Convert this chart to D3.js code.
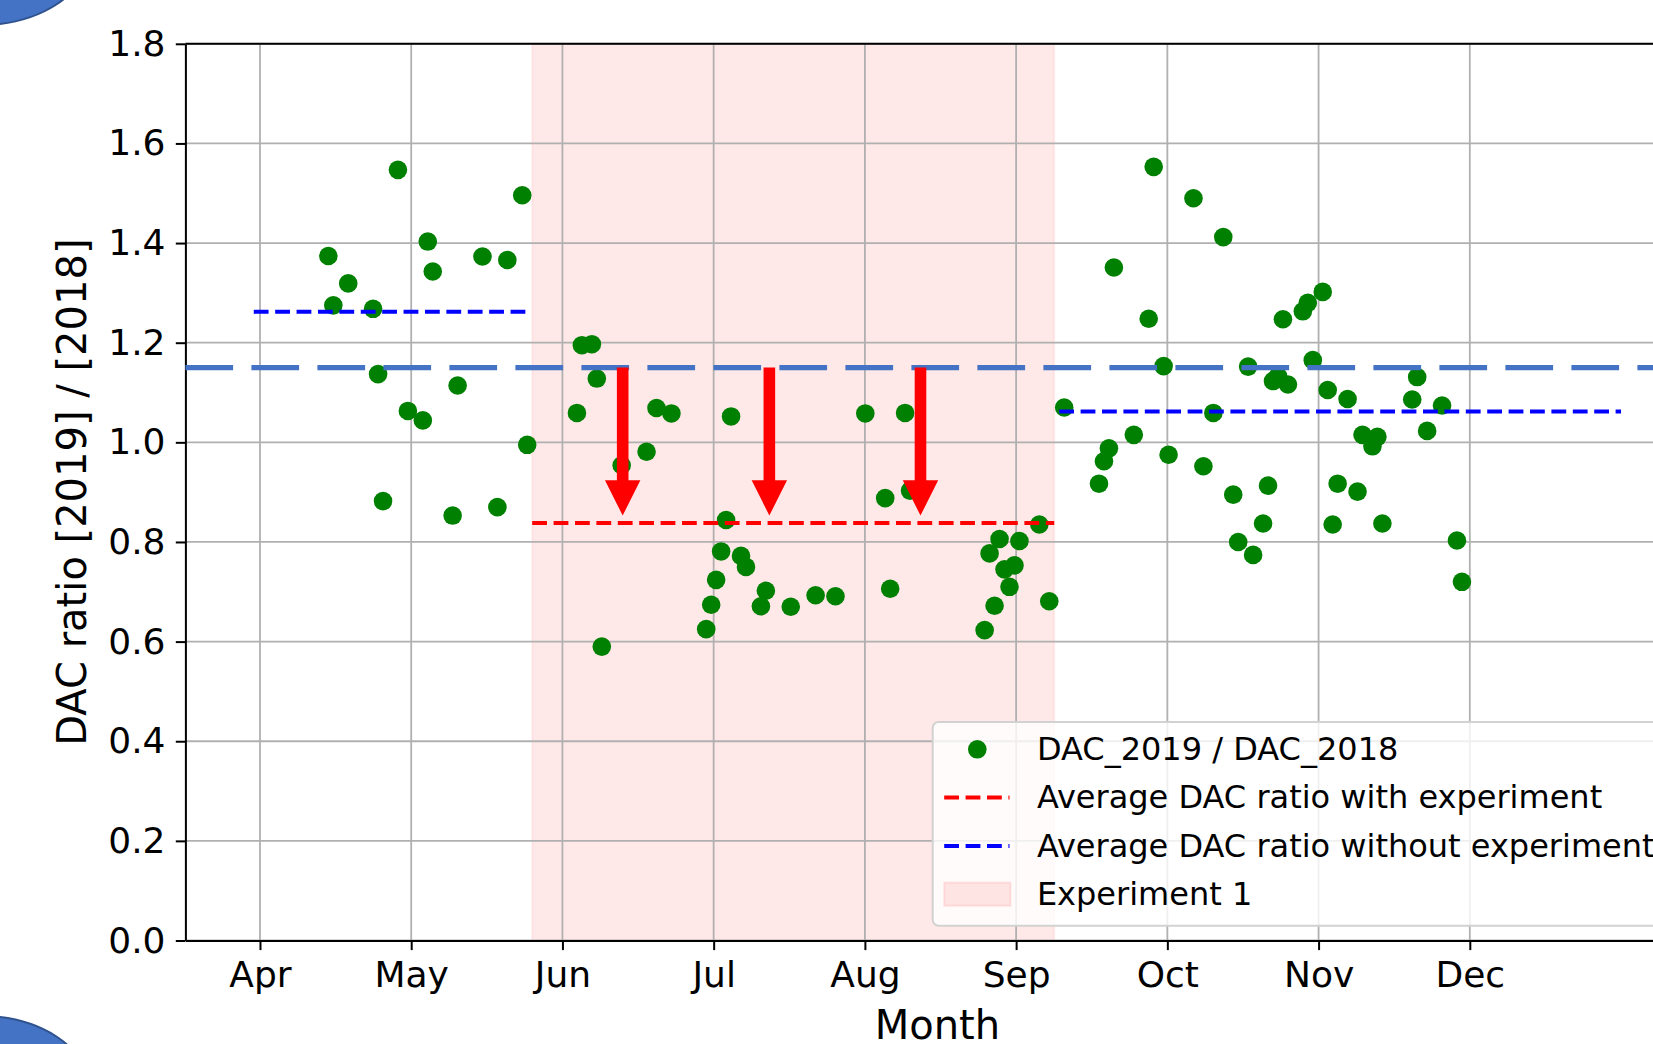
<!DOCTYPE html>
<meta charset="utf-8">

<head>
	<script src="https://cdn.jsdelivr.net/npm/d3@7"></script>
	<style>
		body {
			margin: 0;
			background: #fff;
		}

		svg {
			display: block;
			font-family: "DejaVu Sans", sans-serif;
		}

		.tick text {
			font-size: 36px;
			fill: #000;
		}

		.legend text {
			font-size: 32px;
			fill: #000;
		}
	</style>
</head>

<body>
	<svg id="svg"></svg>
</body>
<script>
	// day of the year (2019) of each measurement
	var dayOfYear = [
		105, 106, 109, 114, 115, 116, 119, 121, 124, 125, 126, 130, 131, 136, 139, 141, 144, 145,
		155, 156, 158, 159, 160, 164, 169, 171, 174,
		181, 182, 183, 184, 185, 186, 188, 189, 192, 193, 198, 203, 207,
		213, 217, 218, 221, 222,
		237, 238, 239, 240, 241, 242, 243, 244, 248, 250,
		253, 260, 261, 262, 263, 267, 270, 271, 273, 274, 279, 281, 283, 285, 287, 288, 290, 291,
		293, 294, 295, 296, 297, 298, 301, 302, 303, 305, 306, 307, 308, 310, 312, 313, 315, 316, 317,
		323, 324, 326, 329, 332, 333
	];

	// DAC_2019 / DAC_2018
	var dacRatio = [
		1.374, 1.275, 1.319, 1.268, 1.137, 0.882, 1.547, 1.063, 1.044, 1.403, 1.343, 0.853, 1.114, 1.373, 0.870, 1.366, 1.496, 0.995,
		1.059, 1.195, 1.197, 1.128, 0.590, 0.954, 0.981, 1.069, 1.058,
		0.625, 0.674, 0.724, 0.781, 0.844, 1.052, 0.772, 0.750, 0.671, 0.702, 0.670, 0.693, 0.691,
		1.058, 0.888, 0.706, 1.059, 0.903,
		0.623, 0.777, 0.672, 0.806, 0.745, 0.710, 0.753, 0.802, 0.835, 0.681,
		1.070, 0.917, 0.962, 0.988, 1.351, 1.015, 1.248, 1.553, 1.153, 0.975, 1.490, 0.952, 1.059, 1.412, 0.895, 0.800, 1.152, 0.774,
		0.837, 0.913, 1.123, 1.133, 1.247, 1.116, 1.263, 1.280, 1.165, 1.302, 1.105, 0.835, 0.917, 1.087, 0.901, 1.015, 0.992, 1.011, 0.837,
		1.086, 1.131, 1.023, 1.074, 0.803, 0.720
	];

	var monthLabels = ['Apr', 'May', 'Jun', 'Jul', 'Aug', 'Sep', 'Oct', 'Nov', 'Dec'];
	var yTicks = [0, 0.2, 0.4, 0.6, 0.8, 1.0, 1.2, 1.4, 1.6, 1.8];

	// averages without experiment: [start day, end day, value]
	var withoutStart = [90, 252];
	var withoutEnd = [145, 365];
	var withoutValue = [1.262, 1.062];

	// experiment period and its average
	var experimentSpan = [146, 251];
	var withValue = 0.838;

	// overall reference level and the arrows drawn from it
	var referenceLevel = 1.15;
	var arrowDays = [164.2, 193.7, 224.1];
	var arrowHead = [0.924, 0.853];

	var legendLabels = [
		'DAC_2019 / DAC_2018',
		'Average DAC ratio with experiment',
		'Average DAC ratio without experiment',
		'Experiment 1'
	];

	var width = 1653, height = 1044;
	var margin = { left: 185.4, top: 43.8 };
	var plotW = 1504, plotH = 896.7;

	var svg = d3.select('#svg')
		.attr('width', width)
		.attr('height', height);

	// slide decoration behind the chart
	[[-20, -45], [-20, 1086]].forEach(c => {
		svg.append('ellipse')
			.attr('cx', c[0]).attr('cy', c[1])
			.attr('rx', 108).attr('ry', 70)
			.attr('fill', '#4472C4')
			.attr('stroke', '#2F528F')
			.attr('stroke-width', 2);
	});

	var x = d3.scaleLinear().domain([76.25, 378.75]).range([margin.left, margin.left + plotW]);
	var y = d3.scaleLinear().domain([0, 1.8]).range([margin.top + plotH, margin.top]);

	var monthTicks = monthLabels.map((m, i) => (i + 3) * 365 / 12);

	// shaded experiment span
	svg.append('rect')
		.attr('x', x(experimentSpan[0]))
		.attr('y', y(1.8))
		.attr('width', x(experimentSpan[1]) - x(experimentSpan[0]))
		.attr('height', y(0) - y(1.8))
		.attr('fill', 'rgba(255,0,0,0.09)')
		.attr('stroke', 'rgba(255,0,0,0.06)')
		.attr('stroke-width', 2);

	// grid
	var grid = svg.append('g').attr('stroke', '#b0b0b0').attr('stroke-width', 1.8);
	grid.selectAll('.vg').data(monthTicks).enter().append('line')
		.attr('x1', d => x(d)).attr('x2', d => x(d))
		.attr('y1', y(0)).attr('y2', y(1.8));
	grid.selectAll('.hg').data(yTicks).enter().append('line')
		.attr('x1', x.range()[0]).attr('x2', x.range()[1])
		.attr('y1', d => y(d)).attr('y2', d => y(d));

	// points
	svg.append('g').selectAll('circle')
		.data(dayOfYear)
		.enter()
		.append('circle')
		.attr('cx', d => x(d))
		.attr('cy', (d, i) => y(dacRatio[i]))
		.attr('r', 9.3)
		.attr('fill', '#008000');

	// average lines
	var dash = '14.8,6.6';
	withoutStart.forEach((s, i) => {
		svg.append('line')
			.attr('x1', x(s)).attr('x2', x(withoutEnd[i]))
			.attr('y1', y(withoutValue[i])).attr('y2', y(withoutValue[i]))
			.attr('stroke', '#0000ff').attr('stroke-width', 4)
			.attr('stroke-dasharray', dash);
	});
	svg.append('line')
		.attr('x1', x(experimentSpan[0])).attr('x2', x(experimentSpan[1]))
		.attr('y1', y(withValue)).attr('y2', y(withValue))
		.attr('stroke', '#ff0000').attr('stroke-width', 4)
		.attr('stroke-dasharray', dash);

	// axes
	var xAxis = svg.append('g')
		.attr('transform', 'translate(0,' + y(0) + ')')
		.call(d3.axisBottom(x).tickValues(monthTicks)
			.tickFormat((d, i) => monthLabels[i])
			.tickSize(9.6).tickSizeOuter(0).tickPadding(11.3));
	var yAxis = svg.append('g')
		.attr('transform', 'translate(' + margin.left + ',0)')
		.call(d3.axisLeft(y).tickValues(yTicks)
			.tickFormat(d3.format('.1f'))
			.tickSize(9.6).tickSizeOuter(0).tickPadding(10.3));
	[xAxis, yAxis].forEach(a => {
		a.selectAll('path, line').attr('stroke', '#000').attr('stroke-width', 2);
		a.selectAll('text').attr('font-family', '"DejaVu Sans", sans-serif').attr('font-size', 36);
	});
	svg.append('line')
		.attr('x1', x.range()[0]).attr('x2', x.range()[1])
		.attr('y1', y(1.8)).attr('y2', y(1.8))
		.attr('stroke', '#000').attr('stroke-width', 2);

	svg.append('text')
		.attr('x', margin.left + plotW / 2)
		.attr('y', 1039)
		.attr('text-anchor', 'middle')
		.attr('font-size', 40)
		.text('Month');

	svg.append('text')
		.attr('transform', 'translate(86,' + (margin.top + plotH / 2) + ') rotate(-90)')
		.attr('text-anchor', 'middle')
		.attr('font-size', 40)
		.text('DAC ratio [2019] / [2018]');

	// legend
	var legend = svg.append('g').attr('class', 'legend').attr('transform', 'translate(932.7,722)');
	legend.append('rect')
		.attr('width', 760).attr('height', 203.7)
		.attr('rx', 6)
		.attr('fill', 'rgba(255,255,255,0.8)')
		.attr('stroke', '#d2d2d2')
		.attr('stroke-width', 2);
	var rows = legend.selectAll('.row').data(legendLabels).enter().append('g')
		.attr('transform', (d, i) => 'translate(0,' + (27.3 + i * 48.3) + ')');
	rows.append('text')
		.attr('x', 104.2)
		.attr('y', 10.7)
		.text(d => d);
	legend.append('circle').attr('cx', 44.6).attr('cy', 27.3).attr('r', 9.3).attr('fill', '#008000');
	[['#ff0000', 1], ['#0000ff', 2]].forEach(l => {
		legend.append('line')
			.attr('x1', 11.5).attr('x2', 76.8)
			.attr('y1', 27.3 + l[1] * 48.3).attr('y2', 27.3 + l[1] * 48.3)
			.attr('stroke', l[0]).attr('stroke-width', 4)
			.attr('stroke-dasharray', dash);
	});
	legend.append('rect')
		.attr('x', 11.5).attr('y', 27.3 + 3 * 48.3 - 11.6)
		.attr('width', 66.3).attr('height', 23.2)
		.attr('fill', 'rgba(255,0,0,0.09)')
		.attr('stroke', 'rgba(255,0,0,0.09)')
		.attr('stroke-width', 2);

	// reference line and arrows on top
	svg.append('line')
		.attr('x1', x.range()[0]).attr('x2', x.range()[1])
		.attr('y1', y(referenceLevel)).attr('y2', y(referenceLevel))
		.attr('stroke', '#4472C4').attr('stroke-width', 5.3)
		.attr('stroke-dasharray', '47.7,18.3');

	var arrow = d => {
		var cx = x(d), t = y(referenceLevel), h = y(arrowHead[0]), tip = y(arrowHead[1]);
		return 'M' + (cx - 5.8) + ',' + t + 'H' + (cx + 5.8) + 'V' + h + 'H' + (cx + 17.7) +
			'L' + cx + ',' + tip + 'L' + (cx - 17.7) + ',' + h + 'H' + (cx - 5.8) + 'Z';
	};
	svg.append('g').selectAll('path')
		.data(arrowDays)
		.enter()
		.append('path')
		.attr('d', arrow)
		.attr('fill', '#ff0000');
</script>
